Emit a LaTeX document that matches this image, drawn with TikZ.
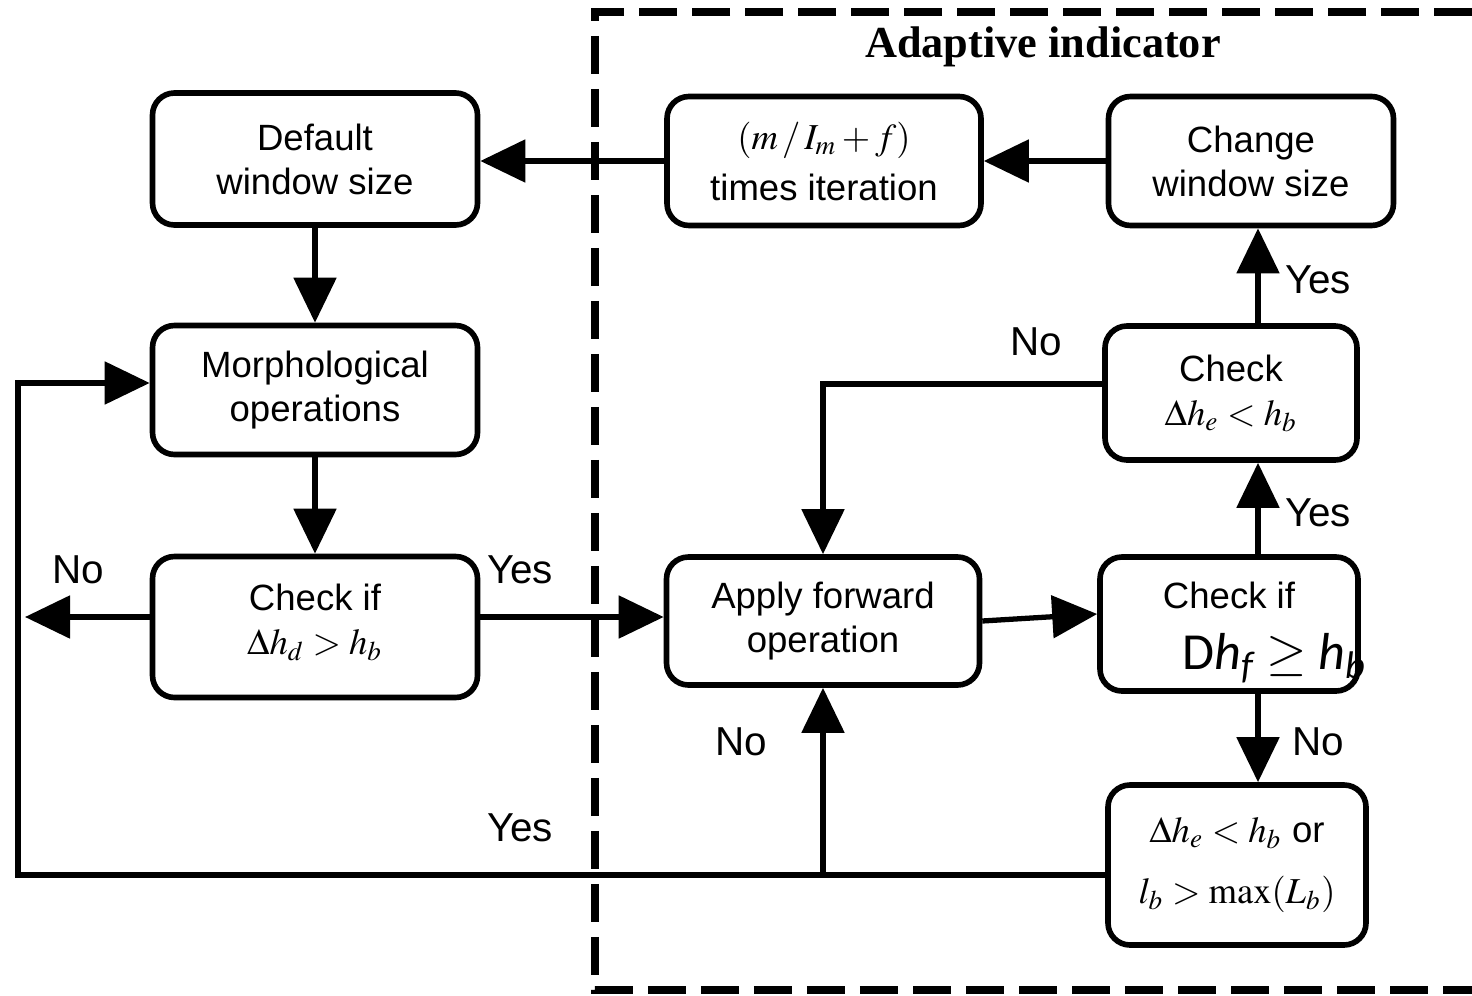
\documentclass[tikz,border=0pt]{standalone}
\usepackage{mathptmx}
\usepackage[no-math]{fontspec}
\setmainfont{Liberation Sans}
\newfontfamily\serifbold{Liberation Serif}
\newfontfamily\calfont{Carlito}
\usetikzlibrary{arrows.meta}

\tikzset{
  box/.style={draw, line width=1.6pt, rounded corners=0.22cm, align=center,
    inner sep=0pt, font=\fontsize{10.4}{12.5}\selectfont},
  flow/.style={line width=1.5pt, -{Triangle[length=4.5mm,width=4.2mm]}},
  answer/.style={font=\fontsize{11.5}{13}\selectfont},
}

\begin{document}
\begin{tikzpicture}
  \useasboundingbox (0,0) rectangle (14.72,9.95);

  % Adaptive indicator region
  \draw[line width=2.2pt, dash pattern=on 0.38cm off 0.15cm] (14.72,9.83) -| (5.95,0.05) -- (14.72,0.05);
  \node[font=\serifbold\bfseries\fontsize{12.6}{14}\selectfont] (title) at (10.43,9.48) {Adaptive indicator};

  % Boxes
  \node[box, minimum width=3.25cm, minimum height=1.32cm] (default) at (3.15,8.36) {Default\\window size};
  \node[box, minimum width=3.25cm, minimum height=1.29cm] (morph) at (3.15,6.05) {Morphological\\operations};
  \node[box, minimum width=3.25cm, minimum height=1.41cm] (checkd) at (3.15,3.68) {Check if\\$\Delta h_d>h_b$\\[-8pt]};
  \node[box, minimum width=3.14cm, minimum height=1.29cm] (iter) at (8.24,8.34) {$(m\,/\,I_m+f)$\\[2pt]times iteration};
  \node[box, minimum width=2.85cm, minimum height=1.29cm] (change) at (12.51,8.34) {Change\\window size};
  \node[box, minimum width=2.52cm, minimum height=1.34cm] (checke) at (12.31,6.02) {Check\\$\Delta h_e<h_b$};
  \node[box, minimum width=3.13cm, minimum height=1.28cm] (apply) at (8.23,3.74) {Apply forward\\operation};
  \node[box, minimum width=2.58cm, minimum height=1.34cm] (checkf) at (12.29,3.71) {Check if\\\strut};
  \node[font=\calfont\fontsize{14.8}{17}\selectfont] (fcond) at (12.75,3.37)
    {D{\itshape h}\textsubscript{\itshape f} $\geq$ {\itshape h}\textsubscript{\itshape b}};
  \node[box, minimum width=2.58cm, minimum height=1.60cm] (final) at (12.37,1.30) {$\Delta h_e<h_b$ or\\[5pt]$l_b>\max(L_b)$};

  % Connections
  \coordinate (dleft) at (0.25,3.78);
  \coordinate (rcol) at (12.58,0);
  \coordinate (loop) at (0.18,1.20);

  \draw[flow] (iter.west) -- (iter.west -| default.east);
  \draw[flow] (change.west) -- (change.west -| iter.east);
  \draw[flow] (default.south) -- (morph.north);
  \draw[flow] (morph.south) -- (checkd.north);
  \draw[flow] (checkd.west |- dleft) -- (dleft);
  \draw[flow] (checkd.east |- dleft) -- (apply.west |- dleft);
  \draw[flow] (apply.east) -- ([yshift=1mm]checkf.west);
  \draw[flow] (checkf.north -| rcol) -- (checke.south -| rcol);
  \draw[flow] (checke.north -| rcol) -- (change.south -| rcol);
  \draw[flow] (checkf.south -| rcol) -- (final.north -| rcol);
  \draw[flow] ([yshift=0.09cm]checke.west) -| (apply.north);
  \draw[flow] (final.west |- loop) -- (loop) |- ([yshift=0.07cm]morph.west);
  \draw[flow] (apply.south |- loop) -- (apply.south);

  % Answers
  \node[answer] (nod) at (0.78,4.25) {No};
  \node[answer] (yesd) at (5.20,4.25) {Yes};
  \node[answer] (noe) at (10.36,6.53) {No};
  \node[answer] (yese) at (13.18,7.15) {Yes};
  \node[answer] (yesf) at (13.18,4.82) {Yes};
  \node[answer] (nof) at (13.18,2.53) {No};
  \node[answer] (noa) at (7.41,2.53) {No};
  \node[answer] (yesl) at (5.20,1.67) {Yes};
\end{tikzpicture}
\end{document}
